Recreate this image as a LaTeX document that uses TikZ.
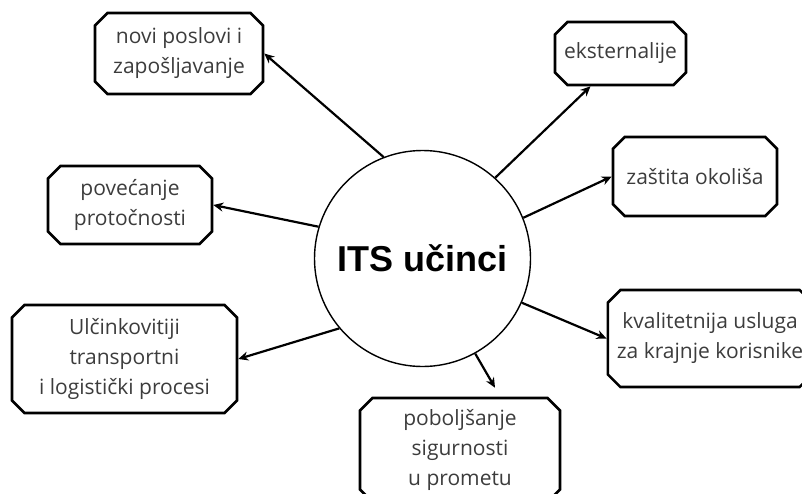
\documentclass[tikz,border=0pt]{standalone}
\usepackage{fontspec}
\setmainfont{Open Sans}
\newfontfamily\titlefont{Liberation Sans}
\usetikzlibrary{shapes.misc, arrows.meta}
\definecolor{textgray}{HTML}{3C3C3C}
\tikzstyle{effect} = [chamfered rectangle, chamfered rectangle xsep=9pt, draw=black, line width=2.6pt, align=center, text=textgray, inner sep=0pt, font=\fontsize{21}{30}\selectfont]
\tikzstyle{hub} = [circle, draw=black, line width=1.4pt, minimum size=216pt, font=\titlefont\bfseries\fontsize{36}{40}\selectfont]
\tikzstyle{arrow} = [line width=2.2pt, -{Stealth[length=10pt,width=9pt]}]

\begin{document}
\begin{tikzpicture}[x=1pt, y=-1pt]
            \useasboundingbox (0,0) rectangle (802,493);
            \clip (0,0) rectangle (802,493);

            \node(root) [hub] at (422.5,258.5) {ITS učinci};

            \node(novi) [effect, minimum width=168pt, minimum height=81pt] at (179,53.5) {novi poslovi i\\zapošljavanje};
            \node(eks) [effect, minimum width=131pt, minimum height=63pt] at (620.5,53.5) {eksternalije};
            \node(zas) [effect, minimum width=164pt, minimum height=79pt] at (695,176.5) {zaštita okoliša};
            \node(kva) [effect, minimum width=204pt, minimum height=97pt] at (710,338.5) {kvalitetnija usluga\\za krajnje korisnike};
            \node(pob) [effect, minimum width=200pt, minimum height=104pt] at (460,450) {poboljšanje\\sigurnosti\\u prometu};
            \node(ulc) [effect, minimum width=225pt, minimum height=108pt] at (124.5,359) {Ulčinkovitiji\\transportni\\i logistički procesi};
            \node(pov) [effect, minimum width=164pt, minimum height=78pt] at (130,205) {povećanje\\protočnosti};

            \draw[arrow] (root.111) -- (novi.east);
            \draw[arrow] (root.48) -- ([xshift=-30pt]eks.south);
            \draw[arrow] (root.22) -- (zas.west);
            \draw[arrow] (root.-24) -- (kva.west);
            \draw[arrow] (root.-61) -- ([xshift=35pt,yshift=9pt]pob.north);
            \draw[arrow] (root.220) -- (ulc.east);
            \draw[arrow] (root.163) -- (pov.east);
\end{tikzpicture}
\end{document}
